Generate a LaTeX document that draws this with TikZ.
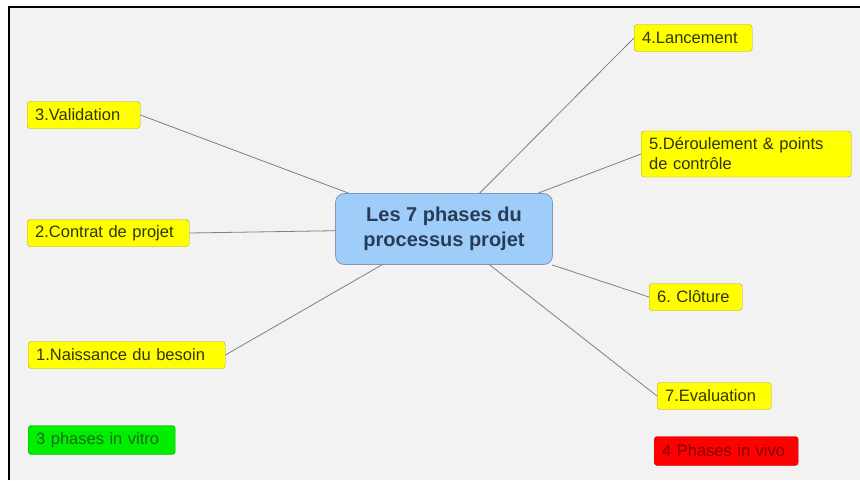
\documentclass[tikz,border=0pt]{standalone}
\usepackage{fontspec}
\setmainfont{Liberation Sans}
\usetikzlibrary{positioning}

\definecolor{bgGrey}{HTML}{F2F2F2}
\definecolor{centreBlue}{HTML}{9FCDF9}
\definecolor{centreEdge}{HTML}{7F98B4}
\definecolor{centreText}{HTML}{283C55}
\definecolor{phaseYellow}{HTML}{FFFF00}
\definecolor{phaseEdge}{HTML}{B0A43C}
\definecolor{phaseText}{HTML}{33330F}
\definecolor{vitroGreen}{HTML}{00EE00}
\definecolor{vitroText}{HTML}{176A17}
\definecolor{vivoRed}{HTML}{FF0000}
\definecolor{vivoText}{HTML}{800000}
\definecolor{linkGrey}{HTML}{808080}

\begin{document}
\frenchspacing
\begin{tikzpicture}[x=1pt,y=-1pt]
\useasboundingbox (0,0) rectangle (860,480);
\fill[bgGrey] (9,7) rectangle (860,480);
\draw[line width=2pt] (9,480) -- (9,7) -- (860,7);
\begin{scope}[every node/.style={rounded corners=9pt,draw=centreEdge,fill=centreBlue,thick,
              align=center,text=centreText,font=\fontsize{20}{25}\selectfont\bfseries,
              minimum width=217pt,minimum height=71pt}]
    \node (C) at (444,229) {Les 7 phases du\\processus projet};
\end{scope}
\begin{scope}[every node/.style={anchor=west,rounded corners=3pt,draw=phaseEdge,fill=phaseYellow,
              text=phaseText,font=\fontsize{16.5}{20}\selectfont,minimum height=27pt,
              inner xsep=8pt,align=left}]
    \node[text width=181pt] (P1) at (28,355) {1.Naissance du besoin};
    \node[text width=146pt] (P2) at (27,233) {2.Contrat de projet};
    \node[text width=97pt] (P3) at (27,115) {3.Validation};
    \node[text width=102pt] (P4) at (634,38) {4.Lancement};
    \node[text width=194pt,minimum height=46pt] (P5) at (641,154) {5.Déroulement \& points\\de contrôle};
    \node[text width=77pt] (P6) at (649,297) {6. Clôture};
    \node[text width=98pt] (P7) at (657,396) {7.Evaluation};
\end{scope}
\begin{scope}[every node/.style={anchor=west,rounded corners=3pt,minimum height=29pt,
              inner xsep=8pt,align=left,font=\fontsize{16.5}{20}\selectfont}]
    \node[text width=131pt,fill=vitroGreen,draw=vitroGreen!70!black,text=vitroText] (V1) at (28,440) {3 phases in vitro};
    \node[text width=128pt,fill=vivoRed,draw=vivoRed!70!black,text=vivoText] (V2) at (654,451) {4 Phases in vivo};
\end{scope}
\begin{scope}[every edge/.style={draw=linkGrey,line width=0.8pt}]
    \path [-] (C) edge (P1.east);
    \path [-] (C) edge (P2.east);
    \path [-] (C) edge (P3.east);
    \path [-] (C) edge (P4.west);
    \path [-] (C) edge (P5.west);
    \path [-] (C) edge (P6.west);
    \path [-] (C) edge (P7.west);
\end{scope}
\end{tikzpicture}
\end{document}
